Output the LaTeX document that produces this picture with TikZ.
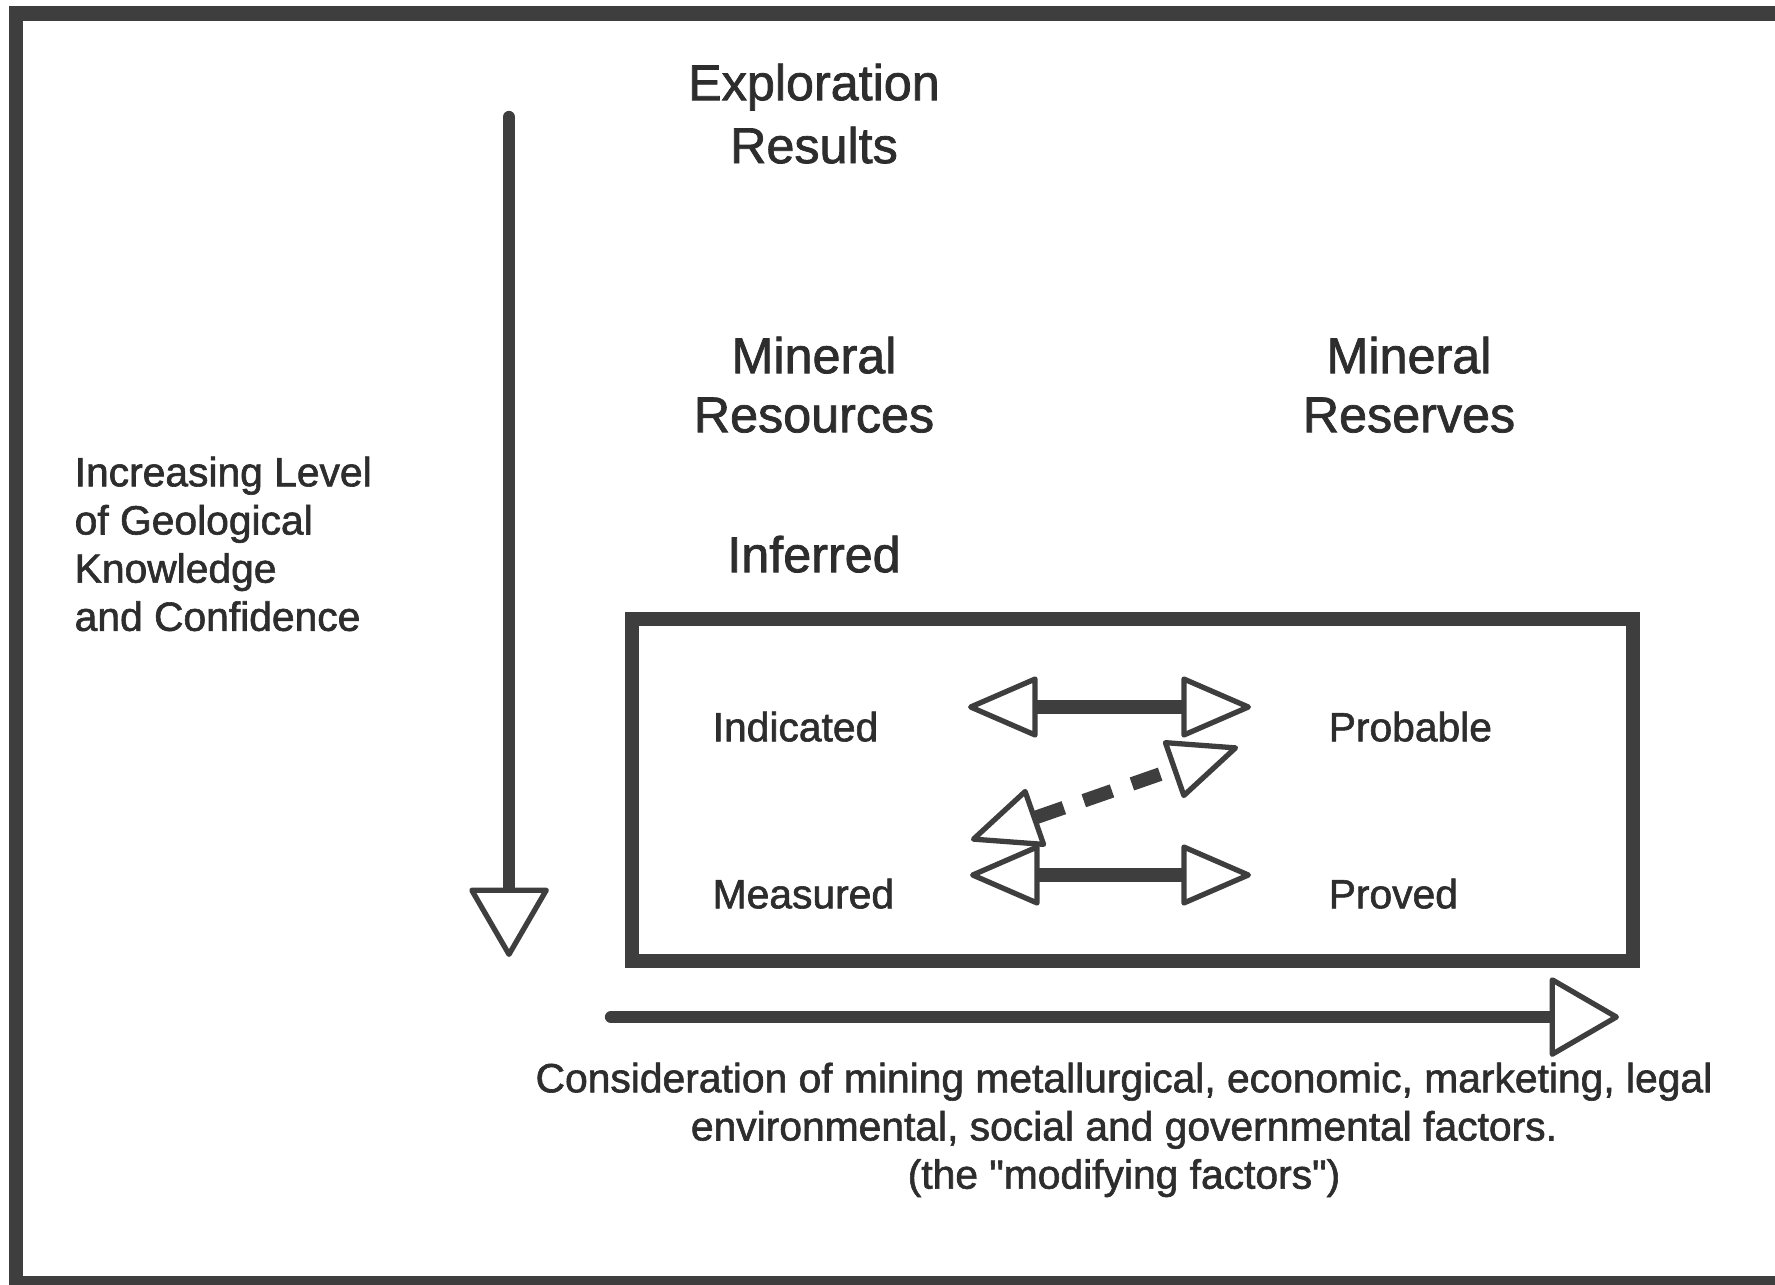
\documentclass[tikz,border=0pt]{standalone}
\usepackage{fontspec}
\setmainfont{Liberation Sans}[FakeBold=1.5, Ligatures=TeXOff]
\usetikzlibrary{arrows.meta}
\definecolor{ink}{RGB}{62,62,62}
\definecolor{txt}{RGB}{45,45,45}
\begin{document}
\begin{tikzpicture}[x=0.01cm,y=-0.01cm,
  big/.style={font=\fontsize{14.3}{17.9}\selectfont, text=txt, inner sep=0pt, align=center},
  small/.style={font=\fontsize{11.6}{13.7}\selectfont, text=txt, inner sep=0pt},
  shaft/.style={draw=ink, line width=3.5pt},
  thickshaft/.style={draw=ink, line width=3.9pt},
  bighead/.tip={Triangle[fill=white, length=20.5pt, width=23.4pt, line width=1.5pt, round]},
  smallhead/.tip={Triangle[fill=white, length=21pt, width=17.8pt, line width=1.5pt, round]}]
\useasboundingbox (0,0) rectangle (1775,1284);
\clip (0,0) rectangle (1775,1284);
% outer frame
\draw[ink, line width=4pt] (16,13.5) rectangle (1800,1283);

% headings
\node[big, anchor=north] (expl) at (814,63) {Exploration\\Results};
\node[big, anchor=north, font=\fontsize{14.3}{16.8}\selectfont] (res) at (814,336) {Mineral\\Resources};
\node[big, anchor=north, font=\fontsize{14.3}{16.8}\selectfont] (rsv) at (1409,336) {Mineral\\Reserves};
\node[big, anchor=north] (inf) at (814,535) {Inferred};

% left label
\node[small, anchor=north west, align=left] (conf) at (74,456) {Increasing Level\\of Geological\\Knowledge\\and Confidence};

% inner box
\draw[ink, line width=4.2pt] (632,619) rectangle (1633,961);

\node[small, anchor=north west] (ind) at (712,711) {Indicated};
\node[small, anchor=north west] (mea) at (712,878) {Measured};
\node[small, anchor=north west] (prob) at (1328,711) {Probable};
\node[small, anchor=north west] (prov) at (1328,878) {Proved};

% vertical arrow
\coordinate (vtop) at (509,117);
\coordinate (vtip) at (509,957);
\draw[shaft, line cap=round, -{bighead}] (vtop) -- (vtip);

% horizontal arrow
\coordinate (htail) at (611,1017);
\coordinate (htip) at (1619,1017);
\draw[shaft, line cap=round, -{bighead}] (htail) -- (htip);

% double arrows
\coordinate (a1l) at (968,707);
\coordinate (a1r) at (1251,707);
\draw[thickshaft, {smallhead}-{smallhead}] (a1l) -- (a1r);
\coordinate (a2l) at (970,875);
\coordinate (a2r) at (1251,875);
\draw[thickshaft, {smallhead}-{smallhead}] (a2l) -- (a2r);
\coordinate (a3l) at (971,840);
\coordinate (a3r) at (1238,747);
\draw[thickshaft, dash pattern=on 8.5pt off 6pt, {smallhead}-{smallhead}] (a3l) -- (a3r);

% bottom text
\node[small, anchor=north, align=center] (mod) at (1124,1062) {Consideration of mining metallurgical, economic, marketing, legal\\environmental, social and governmental factors.\\(the "modifying factors")};
\end{tikzpicture}
\end{document}
